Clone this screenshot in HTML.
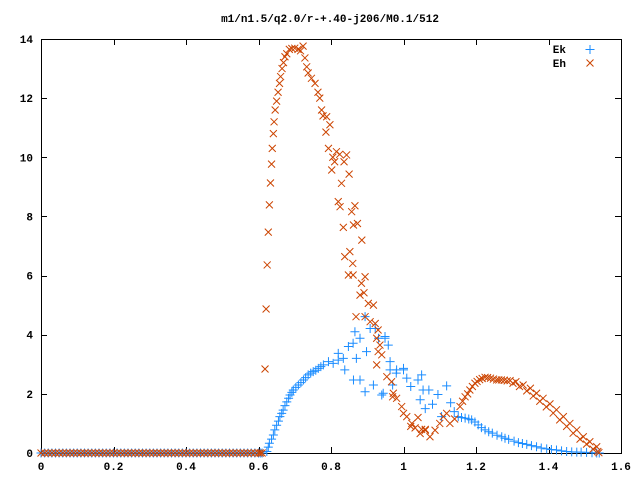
<!DOCTYPE html>
<html><head><meta charset="utf-8"><style>
html,body{margin:0;padding:0;background:#fff}
svg{display:block}
text{font-family:"Liberation Mono",monospace;font-size:11px;font-weight:bold;fill:#000}
</style></head><body>
<svg id="chart" width="640" height="480" viewBox="0 0 640 480">
<rect width="640" height="480" fill="#fff"/>
<text x="330" y="22" text-anchor="middle">m1/n1.5/q2.0/r-+.40-j206/M0.1/512</text>
<g id="axes"></g>
<g id="series"></g>
<g>
<text x="566" y="53" text-anchor="end">Ek</text>
<text x="566" y="67" text-anchor="end">Eh</text>
<path d="M590 45v9M585.5 49.5h9" stroke="#1a8cff" stroke-width="1"/>
<path d="M586.5 59.5l7 7M593.5 59.5l-7 7" stroke="#cc4400" stroke-width="1"/>
</g>
</svg>
<script>
const xTicks=[0,0.2,0.4,0.6,0.8,1,1.2,1.4,1.6];
const xTickLabels=["0","0.2","0.4","0.6","0.8","1","1.2","1.4","1.6"];
const yTicks=[0,2,4,6,8,10,12,14];
const yTickLabels=["0","2","4","6","8","10","12","14"];
const zeroX=[0,0.01,0.02,0.03,0.04,0.05,0.06,0.07,0.08,0.09,0.1,0.11,0.12,0.13,0.14,0.15,0.16,0.17,0.18,0.19,0.2,0.21,0.22,0.23,0.24,0.25,0.26,0.27,0.28,0.29,0.3,0.31,0.32,0.33,0.34,0.35,0.36,0.37,0.38,0.39,0.4,0.41,0.42,0.43,0.44,0.45,0.46,0.47,0.48,0.49,0.5,0.51,0.52,0.53,0.54,0.55,0.56,0.57,0.58,0.59,0.6,0.605,0.61];
const ekX=[0.623,0.63,0.641,0.65,0.659,0.668,0.678,0.687,0.696,0.71,0.724,0.737,0.751,0.765,0.779,0.793,0.806,0.82,0.834,0.848,0.861,0.866,0.88,0.894,0.908,0.922,0.931,0.949,0.958,0.862,0.88,0.894,0.917,0.94,0.963,0.98,1.0,0.82,0.838,0.87,0.898,0.949,0.963,0.981,1.0,0.944,0.97,1.009,1.02,1.04,1.05,1.054,1.07,1.046,1.06,1.08,1.095,1.119,1.105,1.13,1.14,1.151,1.17,1.188,1.206,1.225,1.245,1.271,1.29,1.317,1.34,1.367,1.395,1.422,1.45,1.478,1.505,1.533,0.627,0.636,0.645,0.655,0.664,0.673,0.683,0.692,0.703,0.717,0.73,0.744,0.758,0.772,1.16,1.18,1.197,1.215,1.235,1.258,1.28,1.305,1.328,1.353,1.38,1.408,1.436,1.464,1.49,1.52,1.54];
const ekY=[0.05,0.33,0.61,0.94,1.23,1.45,1.73,1.96,2.13,2.3,2.47,2.64,2.75,2.86,2.98,3.09,3.03,3.14,3.2,3.6,3.71,4.1,3.88,4.61,4.21,4.21,3.88,3.94,3.65,2.47,2.47,2.07,2.3,1.96,2.81,2.7,2.86,3.37,2.81,3.2,3.43,3.88,3.09,2.81,2.81,2.02,2.3,2.53,2.25,2.47,2.64,2.13,2.13,1.8,1.5,1.65,1.98,2.27,1.23,1.7,1.4,1.23,1.18,1.12,0.95,0.78,0.67,0.55,0.46,0.35,0.29,0.21,0.14,0.1,0.05,0.03,0.02,0,0.2,0.47,0.78,1.08,1.34,1.6,1.85,2.05,2.22,2.38,2.55,2.7,2.8,2.92,1.2,1.15,1.05,0.86,0.72,0.6,0.5,0.4,0.32,0.25,0.17,0.12,0.07,0.04,0.03,0.01,0];
const ehX=[0.618,0.621,0.624,0.627,0.63,0.633,0.636,0.638,0.641,0.643,0.646,0.65,0.654,0.658,0.661,0.665,0.669,0.673,0.678,0.685,0.692,0.7,0.709,0.716,0.723,0.728,0.733,0.737,0.746,0.756,0.764,0.769,0.774,0.778,0.788,0.797,0.786,0.793,0.805,0.815,0.824,0.843,0.81,0.802,0.836,0.85,0.829,0.82,0.825,0.866,0.857,0.834,0.862,0.873,0.885,0.852,0.838,0.86,0.848,0.861,0.894,0.884,0.88,0.891,0.903,0.917,0.869,0.894,0.908,0.922,0.93,0.926,0.935,0.93,0.94,0.926,0.954,0.967,0.972,0.981,0.995,1.0,1.009,1.023,1.032,1.046,1.06,1.073,1.087,1.1,1.11,1.119,0.97,1.02,1.04,1.05,1.06,1.128,1.141,1.156,1.17,1.183,1.197,1.21,1.225,1.24,1.257,1.27,1.294,1.31,1.33,1.35,1.367,1.385,1.404,1.422,1.441,1.459,1.478,1.496,1.514,1.533,1.539,1.163,1.177,1.19,1.203,1.217,1.232,1.248,1.263,1.278,1.286,1.302,1.32,1.34,1.358,1.376,1.394,1.413,1.431,1.45,1.468,1.487,1.505,1.523,1.536];
const ehY=[2.84,4.87,6.36,7.47,8.39,9.13,9.77,10.3,10.8,11.2,11.6,11.9,12.2,12.5,12.73,13.0,13.2,13.4,13.5,13.65,13.68,13.69,13.65,13.6,13.76,13.36,13.06,12.85,12.67,12.5,12.2,12.0,11.6,11.4,11.37,11.1,10.85,10.3,10.0,10.19,10.1,10.08,9.85,9.57,9.85,9.43,9.12,8.5,8.33,8.36,8.16,7.63,7.71,7.76,7.2,6.81,6.64,6.41,6.02,6.02,5.96,5.74,5.34,5.42,5.06,5.0,4.61,4.61,4.44,4.38,4.16,3.88,3.65,3.43,3.32,2.98,2.58,2.41,2.02,1.85,1.57,1.34,1.23,1.0,0.85,0.66,0.77,0.55,0.77,1.0,1.23,1.34,1.9,0.9,1.2,0.8,0.8,1.0,1.15,1.57,1.9,2.13,2.36,2.48,2.56,2.53,2.47,2.47,2.45,2.41,2.3,2.19,2.02,1.85,1.66,1.46,1.23,1.0,0.78,0.55,0.38,0.21,0.01,1.75,2.0,2.25,2.42,2.52,2.55,2.5,2.47,2.46,2.44,2.36,2.25,2.1,1.93,1.75,1.56,1.35,1.12,0.9,0.67,0.47,0.3,0.13,0.05];

const NS="http://www.w3.org/2000/svg";
const L=41,R=621,T=39,B=453,XMAX=1.6,YMAX=14;
function sx(v){return L+v/XMAX*(R-L);}
function sy(v){return B-v/YMAX*(B-T);}
function mk(tag,attrs,parent){const e=document.createElementNS(NS,tag);for(const k in attrs)e.setAttribute(k,attrs[k]);parent.appendChild(e);return e;}
const axes=document.getElementById('axes');
const series=document.getElementById('series');
const frame=mk('rect',{x:L+0.5,y:T+0.5,width:R-L,height:B-T,fill:'none',stroke:'#000','stroke-width':1},axes);


xTicks.forEach((v,i)=>{
  const x=Math.round(sx(v))+0.5;
  const t=mk('path',{d:`M${x} ${B}v-6M${x} ${T}v6`,stroke:'#000'},axes);
  
  
  const lb=mk('text',{x:sx(v),y:B+17,'text-anchor':'middle'},axes);
  lb.textContent=xTickLabels[i];
  
  
});
yTicks.forEach((v,i)=>{
  const y=Math.round(sy(v))+0.5;
  const t=mk('path',{d:`M${L} ${y}h6M${R} ${y}h-6`,stroke:'#000'},axes);
  
  
  const lb=mk('text',{x:L-8,y:sy(v)+4,'text-anchor':'end'},axes);
  lb.textContent=yTickLabels[i];
  
  
});
function plus(x,y,c){const s=4.5;return mk('path',{d:`M${x-s} ${y}h${2*s}M${x} ${y-s}v${2*s}`,stroke:c,'stroke-width':1,fill:'none'},series);}
function cross(x,y,c){const s=3.5;return mk('path',{d:`M${x-s} ${y-s}l${2*s} ${2*s}M${x+s} ${y-s}l${-2*s} ${2*s}`,stroke:c,'stroke-width':1,fill:'none'},series);}
const BLUE='#1a8cff',ORANGE='#cc4400';
zeroX.forEach(v=>{const p=plus(sx(v),sy(0),BLUE);
  
  });
ekX.forEach((v,i)=>{const p=plus(sx(v),sy(ekY[i]),BLUE);
  
  });
zeroX.forEach(v=>{const p=cross(sx(v),sy(0),ORANGE);
  
  });
ehX.forEach((v,i)=>{const p=cross(sx(v),sy(ehY[i]),ORANGE);
  
  });
</script>
</body></html>
